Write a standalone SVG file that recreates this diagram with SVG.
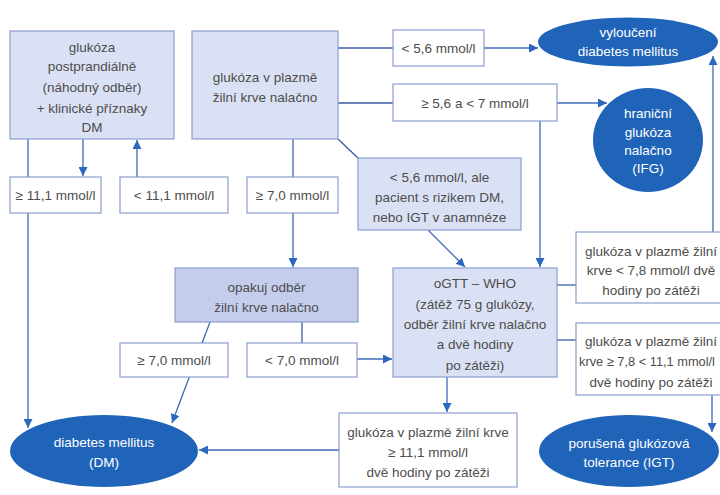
<svg xmlns="http://www.w3.org/2000/svg" width="720" height="495" viewBox="0 0 720 495">
<defs>
<marker id="ah" viewBox="0 0 10 10" refX="10" refY="5" markerWidth="9" markerHeight="9" markerUnits="userSpaceOnUse" orient="auto">
<path d="M0,0 L10,5 L0,10 z" fill="#2a67bd"/>
</marker>
<style>
.box{fill:#ffffff;stroke:#8c9dd0;stroke-width:1.2}
.bl{fill:#dbe1f4;stroke:#8c9dd0;stroke-width:1.2}
.bd{fill:#c5cdec;stroke:#8c9dd0;stroke-width:1.2}
.el{fill:#1f64b8}
.ln{fill:none;stroke:#3d5aa6;stroke-width:1.3}
.ar{fill:none;stroke:#3d6ab8;stroke-width:1.3;marker-end:url(#ah)}
text{font-family:"Liberation Sans",Arial,sans-serif;font-size:13.5px;fill:#4d4d4d;text-anchor:middle}
.w{fill:#ffffff}
</style>
</defs>
<rect width="720" height="495" fill="#ffffff"/>
<g id="connectors">
<line class="ar" x1="28" y1="139" x2="28" y2="428"/>
<line class="ar" x1="83" y1="139" x2="83" y2="176"/>
<line class="ar" x1="137" y1="177" x2="137" y2="140"/>
<line class="ar" x1="293" y1="139" x2="293" y2="267"/>
<line class="ln" x1="338" y1="48" x2="393" y2="48"/>
<line class="ar" x1="484" y1="48" x2="538" y2="48"/>
<line class="ln" x1="338" y1="103" x2="393" y2="103"/>
<line class="ar" x1="557" y1="103" x2="607" y2="103"/>
<line class="ar" x1="540" y1="121" x2="540" y2="267"/>
<line class="ln" x1="338" y1="139" x2="360" y2="160"/>
<line class="ar" x1="428" y1="230" x2="465" y2="267"/>
<line class="ar" x1="210" y1="322" x2="172" y2="423"/>
<line class="ln" x1="302" y1="322" x2="302" y2="343"/>
<line class="ar" x1="357" y1="359" x2="392" y2="359"/>
<line class="ar" x1="447" y1="377" x2="447" y2="412"/>
<line class="ar" x1="339" y1="450" x2="199" y2="450"/>
<line class="ln" x1="557" y1="285" x2="576" y2="285"/>
<line class="ln" x1="557" y1="340" x2="576" y2="340"/>
<line class="ar" x1="713" y1="232" x2="713" y2="56"/>
<line class="ar" x1="712" y1="395" x2="712" y2="432"/>
</g>
<g id="n1"><rect class="bl" x="10" y="31" width="164" height="108"/>
<text x="92" y="52">glukóza</text><text x="92" y="71">postprandiálně</text><text x="92" y="92">(náhodný odběr)</text><text x="92" y="113">+ klinické příznaky</text><text x="92" y="132">DM</text></g>
<g id="n2"><rect class="bl" x="192" y="31" width="146" height="108"/>
<text x="265" y="82">glukóza v plazmě</text><text x="265" y="102">žilní krve nalačno</text></g>
<g id="n3"><rect class="box" x="10" y="177" width="91" height="36"/><text x="55.5" y="200">≥ 11,1 mmol/l</text></g>
<g id="n4"><rect class="box" x="120" y="177" width="108" height="36"/><text x="174" y="200">&lt; 11,1 mmol/l</text></g>
<g id="n5"><rect class="box" x="247" y="177" width="91" height="36"/><text x="292.5" y="200">≥ 7,0 mmol/l</text></g>
<g id="n6"><rect class="box" x="393" y="30" width="91" height="36"/><text x="438.5" y="53">&lt; 5,6 mmol/l</text></g>
<g id="n7"><rect class="box" x="393" y="84" width="164" height="37"/><text x="475" y="108">≥ 5,6 a &lt; 7 mmol/l</text></g>
<g id="n8"><ellipse class="el" cx="628" cy="42" rx="90" ry="24.5"/>
<text class="w" x="628" y="37">vyloučení</text><text class="w" x="628" y="56">diabetes mellitus</text></g>
<g id="n9"><ellipse class="el" cx="648" cy="140" rx="55" ry="52"/>
<text class="w" x="648" y="118">hraniční</text><text class="w" x="648" y="137">glukóza</text><text class="w" x="648" y="155">nalačno</text><text class="w" x="648" y="173">(IFG)</text></g>
<g id="n10"><rect class="bl" x="358" y="158" width="163" height="72"/>
<text x="439.5" y="182">&lt; 5,6 mmol/l, ale</text><text x="439.5" y="202">pacient s rizikem DM,</text><text x="439.5" y="222">nebo IGT v anamnéze</text></g>
<g id="n11"><rect class="bd" x="175" y="268" width="183" height="54"/>
<text x="266.5" y="292">opakuj odběr</text><text x="266.5" y="312">žilní krve nalačno</text></g>
<g id="n12"><rect class="bl" x="393" y="268" width="164" height="109"/>
<text x="475" y="288">oGTT – WHO</text><text x="475" y="309">(zátěž 75 g glukózy,</text><text x="475" y="329">odběr žilní krve nalačno</text><text x="475" y="349">a dvě hodiny</text><text x="475" y="370">po zátěži)</text></g>
<g id="n13"><rect class="box" x="576" y="232" width="146" height="71"/>
<text x="651" y="256">glukóza v plazmě žilní</text><text x="651" y="275">krve &lt; 7,8 mmol/l dvě</text><text x="651" y="295">hodiny po zátěži</text></g>
<g id="n14"><rect class="box" x="576" y="323" width="146" height="72"/>
<text x="651" y="346">glukóza v plazmě žilní</text><text x="647" y="366" style="font-size:12.8px">krve ≥ 7,8 &lt; 11,1 mmol/l</text><text x="651" y="387">dvě hodiny po zátěži</text></g>
<g id="n15"><rect class="box" x="120" y="343" width="108" height="34"/><text x="174" y="365">≥ 7,0 mmol/l</text></g>
<g id="n16"><rect class="box" x="247" y="343" width="110" height="34"/><text x="302" y="365">&lt; 7,0 mmol/l</text></g>
<g id="n17"><rect class="box" x="339" y="413" width="178" height="74"/>
<text x="428" y="437">glukóza v plazmě žilní krve</text><text x="428" y="457">≥ 11,1 mmol/l</text><text x="428" y="477">dvě hodiny po zátěži</text></g>
<g id="n18"><ellipse class="el" cx="104" cy="451" rx="94" ry="36"/>
<text class="w" x="104" y="447">diabetes mellitus</text><text class="w" x="104" y="467">(DM)</text></g>
<g id="n19"><ellipse class="el" cx="629" cy="451" rx="90" ry="36"/>
<text class="w" x="629" y="448">porušená glukózová</text><text class="w" x="629" y="467">tolerance (IGT)</text></g>
</svg>
